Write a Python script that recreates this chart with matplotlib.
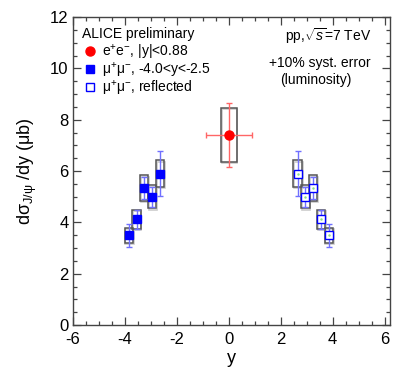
import matplotlib
matplotlib.use("Agg")
import matplotlib.pyplot as plt
from matplotlib.patches import Rectangle
from matplotlib.lines import Line2D
from matplotlib.legend import Legend
from matplotlib.ticker import MultipleLocator

plt.rcParams['font.family'] = ['Liberation Sans', 'DejaVu Sans']
plt.rcParams['mathtext.fontset'] = 'custom'
plt.rcParams['mathtext.rm'] = 'Liberation Sans'
plt.rcParams['mathtext.it'] = 'Liberation Sans:italic'
plt.rcParams['mathtext.bf'] = 'Liberation Sans:bold'
plt.rcParams['mathtext.sf'] = 'Liberation Sans'
plt.rcParams['axes.unicode_minus'] = False

# e+e- (mid-rapidity)
ee_y = [0.0]
ee_val = [7.4]
ee_stat = [1.24]
ee_xerr = [0.88]
ee_syst = [1.05]

# mu+mu- (forward rapidity)
mu_y = [-3.85, -3.55, -3.25, -2.95, -2.65]
mu_val = [3.50, 4.12, 5.34, 5.00, 5.90]
mu_stat = [0.45, 0.38, 0.44, 0.40, 0.88]
mu_syst = [0.30, 0.38, 0.49, 0.45, 0.52]
mu_refl_y = [-v for v in mu_y]

labels = ["e$^{+}$e$^{-}$, |y|<0.88",
          "μ$^{+}$μ$^{-}$, -4.0<y<-2.5",
          "μ$^{+}$μ$^{-}$, reflected"]

fig = plt.figure(figsize=(4.07, 3.88), dpi=100)
ax = fig.add_axes([0.179, 0.162, 0.779, 0.794])

def syst_boxes(xs, vals, syst, hw):
    for x, v, s in zip(xs, vals, syst):
        ax.add_patch(Rectangle((x - hw + 0.03, v - s - 0.05), 2 * hw, 2 * s,
                               fill=False, edgecolor='#cccccc', lw=1.2, zorder=1))
        ax.add_patch(Rectangle((x - hw, v - s), 2 * hw, 2 * s,
                               fill=False, edgecolor='#555555', lw=1.1, zorder=2))

syst_boxes(ee_y, ee_val, ee_syst, 0.3)
syst_boxes(mu_y, mu_val, mu_syst, 0.16)
syst_boxes(mu_refl_y, mu_val, mu_syst, 0.16)

ax.errorbar(ee_y, ee_val, yerr=ee_stat, xerr=ee_xerr, fmt='none',
            ecolor='#ff6666', elinewidth=1.0, capsize=2, capthick=1.0, zorder=3)
ax.plot(ee_y, ee_val, 'o', color='red', ms=6.5, zorder=5)

ax.errorbar(mu_y, mu_val, yerr=mu_stat, fmt='none', ecolor='#7070ff',
            elinewidth=1.0, capsize=2, capthick=1.0, zorder=3)
ax.plot(mu_y, mu_val, 's', color='blue', ms=6, zorder=5)

ax.errorbar(mu_refl_y, mu_val, yerr=mu_stat, fmt='none', ecolor='#7070ff',
            elinewidth=1.0, capsize=2, capthick=1.0, zorder=3)
ax.plot(mu_refl_y, mu_val, 's', mfc='white', mec='blue', mew=1.0, ms=6, zorder=5)
ax.plot(mu_refl_y, mu_val, '.', color='#88dd88', ms=1.5, zorder=6)

ax.set_xlim(-6, 6.2)
ax.set_ylim(0, 12)
ax.xaxis.set_major_locator(MultipleLocator(2))
ax.xaxis.set_minor_locator(MultipleLocator(0.5))
ax.yaxis.set_major_locator(MultipleLocator(2))
ax.yaxis.set_minor_locator(MultipleLocator(0.5))
ax.tick_params(which='both', direction='in', top=True, right=True,
               color='#444444', labelsize=12, width=0.9)
ax.tick_params(which='major', length=6)
ax.tick_params(which='minor', length=3)
ax.tick_params(axis='x', which='major', pad=5)
ax.tick_params(axis='y', which='major', pad=3)
for sp in ax.spines.values():
    sp.set_color('#444444')
    sp.set_linewidth(1.0)

ax.set_xlabel("y", fontsize=13, labelpad=2)
ax.set_ylabel("dσ$_{\\mathrm{J/ψ}}$ /dy (μb)", fontsize=13, labelpad=8)

ax.text(0.03, 0.945, "ALICE preliminary", transform=ax.transAxes,
        fontsize=10, va='center', ha='left')

handles = [Line2D([], [], ls='none', marker='o', color='red', ms=6.5),
           Line2D([], [], ls='none', marker='s', color='blue', ms=6),
           Line2D([], [], ls='none', marker='s', mfc='white', mec='blue', ms=6)]
row_y = [0.886, 0.828, 0.769]
for h, lab, ry in zip(handles, labels, row_y):
    leg = Legend(ax, [h], [lab], loc='center left', bbox_to_anchor=(0.035, ry),
                 frameon=False, fontsize=10, handlelength=0.8,
                 handletextpad=0.5, borderpad=0, borderaxespad=0)
    ax.add_artist(leg)

ax.text(0.94, 0.937, "pp,$\\sqrt{s}$=7 TeV", transform=ax.transAxes,
        fontsize=10, ha='right', va='center')
ax.text(0.94, 0.85, "+10% syst. error", transform=ax.transAxes,
        fontsize=10, ha='right', va='center')
ax.text(0.88, 0.795, "(luminosity)", transform=ax.transAxes,
        fontsize=10, ha='right', va='center')

fig.savefig("out.png", dpi=100)
